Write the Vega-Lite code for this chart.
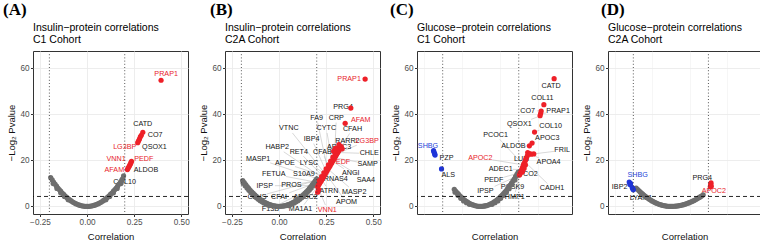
{
"$schema":"https://vega.github.io/schema/vega-lite/v6.json",
"background":"white",
"padding":{"left":2,"top":0,"right":0,"bottom":0},
"spacing":7,
"config":{
 "view":{"stroke":"#333333","strokeWidth":1},
 "font":"Liberation Sans",
 "axis":{"labelFont":"Liberation Sans","titleFont":"Liberation Sans","labelFontSize":8.2,"labelColor":"#4d4d4d","titleFontSize":9.5,"titleFontWeight":"normal","titleColor":"#111111","tickColor":"#333333","tickSize":2.5,"domain":false,"labelPadding":1.5,"gridColor":"#ebebeb"},
 "axisY":{"minExtent":14,"maxExtent":14,"titlePadding":3},
 "axisX":{"titlePadding":6},
 "title":{"anchor":"start","frame":"group","font":"Liberation Serif","fontSize":17,"fontWeight":"bold","color":"#000000","offset":4,"subtitleFont":"Liberation Sans","subtitleFontSize":10.5,"subtitleColor":"#000000","subtitleLineHeight":12,"subtitlePadding":4}
},
"datasets":{
"ptsA":[
{"x":-0.193,"y":12.5,"g":"n"},{"x":-0.185,"y":11.5,"g":"n"},{"x":-0.178,"y":10.6,"g":"n"},{"x":-0.17,"y":9.7,"g":"n"},{"x":-0.162,"y":8.8,"g":"n"},{"x":-0.155,"y":8.0,"g":"n"},{"x":-0.148,"y":7.3,"g":"n"},{"x":-0.14,"y":6.6,"g":"n"},{"x":-0.132,"y":5.8,"g":"n"},{"x":-0.124,"y":5.2,"g":"n"},{"x":-0.116,"y":4.5,"g":"n"},{"x":-0.108,"y":3.9,"g":"n"},{"x":-0.1,"y":3.35,"g":"n"},{"x":-0.092,"y":2.8,"g":"n"},{"x":-0.084,"y":2.4,"g":"n"},{"x":-0.076,"y":1.9,"g":"n"},{"x":-0.068,"y":1.55,"g":"n"},{"x":-0.06,"y":1.2,"g":"n"},{"x":-0.052,"y":0.9,"g":"n"},{"x":-0.044,"y":0.65,"g":"n"},{"x":-0.036,"y":0.43,"g":"n"},{"x":-0.028,"y":0.26,"g":"n"},{"x":-0.02,"y":0.13,"g":"n"},{"x":-0.012,"y":0.05,"g":"n"},{"x":-0.004,"y":0.01,"g":"n"},{"x":0.004,"y":0.01,"g":"n"},{"x":0.012,"y":0.05,"g":"n"},{"x":0.02,"y":0.13,"g":"n"},{"x":0.028,"y":0.26,"g":"n"},{"x":0.036,"y":0.43,"g":"n"},{"x":0.044,"y":0.65,"g":"n"},{"x":0.052,"y":0.9,"g":"n"},{"x":0.06,"y":1.2,"g":"n"},{"x":0.068,"y":1.55,"g":"n"},{"x":0.076,"y":1.9,"g":"n"},{"x":0.084,"y":2.4,"g":"n"},{"x":0.092,"y":2.8,"g":"n"},{"x":0.1,"y":3.35,"g":"n"},{"x":0.108,"y":3.9,"g":"n"},{"x":0.116,"y":4.5,"g":"n"},{"x":0.124,"y":5.2,"g":"n"},{"x":0.132,"y":5.8,"g":"n"},{"x":0.14,"y":6.6,"g":"n"},{"x":0.148,"y":7.3,"g":"n"},{"x":0.155,"y":8.0,"g":"n"},{"x":0.162,"y":8.8,"g":"n"},{"x":0.17,"y":9.7,"g":"n"},{"x":0.178,"y":10.6,"g":"n"},{"x":0.185,"y":11.5,"g":"n"},{"x":0.19,"y":12.1,"g":"n"},{"x":0.194,"y":13.3,"g":"n"},
{"x":-0.18,"y":9.9,"g":"n"},{"x":-0.16,"y":7.8,"g":"n"},{"x":-0.14,"y":5.9,"g":"n"},{"x":-0.12,"y":4.3,"g":"n"},{"x":-0.1,"y":2.9,"g":"n"},{"x":0.1,"y":2.9,"g":"n"},{"x":0.12,"y":4.3,"g":"n"},{"x":0.14,"y":5.9,"g":"n"},{"x":0.16,"y":7.8,"g":"n"},{"x":0.18,"y":9.9,"g":"n"},
{"x":0.393,"y":54.8,"g":"r"},{"x":0.296,"y":32.2,"g":"r"},{"x":0.288,"y":30.9,"g":"r"},{"x":0.283,"y":30.2,"g":"r"},{"x":0.278,"y":29.2,"g":"r"},{"x":0.273,"y":28.4,"g":"r"},{"x":0.269,"y":27.7,"g":"r"},{"x":0.236,"y":19.6,"g":"r"},{"x":0.233,"y":19.0,"g":"r"},{"x":0.23,"y":18.4,"g":"r"},{"x":0.226,"y":17.8,"g":"r"},{"x":0.222,"y":17.2,"g":"r"},{"x":0.218,"y":16.6,"g":"r"},{"x":0.214,"y":16.0,"g":"r"}
],
"labA":[
{"n":"PRAP1","lx":0.42,"ly":57.3,"c":"r"},{"n":"CATD","lx":0.296,"ly":35.8,"c":"k"},{"n":"CO7","lx":0.362,"ly":30.9,"c":"k"},{"n":"QSOX1","lx":0.358,"ly":25.7,"c":"k"},{"n":"LG3BP","lx":0.2,"ly":25.7,"c":"r"},{"n":"VNN1","lx":0.154,"ly":20.6,"c":"r"},{"n":"PEDF","lx":0.301,"ly":20.6,"c":"r"},{"n":"AFAM","lx":0.145,"ly":16,"c":"r"},{"n":"ALDOB","lx":0.313,"ly":16,"c":"k"},{"n":"COL10","lx":0.2,"ly":10.7,"c":"k"}
],
"ptsB":[
{"x":-0.193,"y":11.2,"g":"n"},{"x":-0.185,"y":10.3,"g":"n"},{"x":-0.177,"y":9.4,"g":"n"},{"x":-0.169,"y":8.6,"g":"n"},{"x":-0.161,"y":7.8,"g":"n"},{"x":-0.153,"y":7.0,"g":"n"},{"x":-0.145,"y":6.3,"g":"n"},{"x":-0.137,"y":5.6,"g":"n"},{"x":-0.129,"y":5.0,"g":"n"},{"x":-0.121,"y":4.4,"g":"n"},{"x":-0.113,"y":3.8,"g":"n"},{"x":-0.105,"y":3.3,"g":"n"},{"x":-0.097,"y":2.8,"g":"n"},{"x":-0.089,"y":2.4,"g":"n"},{"x":-0.081,"y":2.0,"g":"n"},{"x":-0.073,"y":1.6,"g":"n"},{"x":-0.065,"y":1.27,"g":"n"},{"x":-0.057,"y":0.97,"g":"n"},{"x":-0.049,"y":0.72,"g":"n"},{"x":-0.041,"y":0.5,"g":"n"},{"x":-0.033,"y":0.33,"g":"n"},{"x":-0.025,"y":0.19,"g":"n"},{"x":-0.017,"y":0.09,"g":"n"},{"x":-0.009,"y":0.02,"g":"n"},{"x":0,"y":0,"g":"n"},{"x":0.009,"y":0.02,"g":"n"},{"x":0.017,"y":0.09,"g":"n"},{"x":0.025,"y":0.19,"g":"n"},{"x":0.033,"y":0.33,"g":"n"},{"x":0.041,"y":0.5,"g":"n"},{"x":0.049,"y":0.72,"g":"n"},{"x":0.057,"y":0.97,"g":"n"},{"x":0.065,"y":1.27,"g":"n"},{"x":0.073,"y":1.6,"g":"n"},{"x":0.081,"y":2.0,"g":"n"},{"x":0.089,"y":2.4,"g":"n"},{"x":0.097,"y":2.8,"g":"n"},{"x":0.105,"y":3.3,"g":"n"},{"x":0.113,"y":3.8,"g":"n"},{"x":0.121,"y":4.4,"g":"n"},{"x":0.129,"y":5.0,"g":"n"},{"x":0.137,"y":5.6,"g":"n"},{"x":0.145,"y":6.3,"g":"n"},{"x":0.153,"y":7.0,"g":"n"},{"x":0.161,"y":7.8,"g":"n"},{"x":0.169,"y":8.6,"g":"n"},{"x":0.177,"y":9.4,"g":"n"},{"x":0.185,"y":10.3,"g":"n"},{"x":0.193,"y":11.2,"g":"n"},{"x":0.2,"y":12.0,"g":"n"},
{"x":-0.19,"y":10.1,"g":"n"},{"x":-0.18,"y":9.0,"g":"n"},{"x":-0.17,"y":8.0,"g":"n"},{"x":-0.16,"y":7.0,"g":"n"},{"x":-0.15,"y":6.1,"g":"n"},{"x":-0.14,"y":5.3,"g":"n"},{"x":-0.13,"y":4.5,"g":"n"},{"x":-0.12,"y":3.8,"g":"n"},{"x":-0.11,"y":3.1,"g":"n"},{"x":-0.1,"y":2.5,"g":"n"},{"x":-0.09,"y":2.0,"g":"n"},{"x":-0.08,"y":1.5,"g":"n"},{"x":-0.07,"y":1.1,"g":"n"},{"x":-0.06,"y":0.7,"g":"n"},{"x":-0.05,"y":0.4,"g":"n"},{"x":0.05,"y":0.4,"g":"n"},{"x":0.06,"y":0.7,"g":"n"},{"x":0.07,"y":1.1,"g":"n"},{"x":0.08,"y":1.5,"g":"n"},{"x":0.09,"y":2.0,"g":"n"},{"x":0.1,"y":2.5,"g":"n"},{"x":0.11,"y":3.1,"g":"n"},{"x":0.12,"y":3.8,"g":"n"},{"x":0.13,"y":4.5,"g":"n"},{"x":0.14,"y":5.3,"g":"n"},{"x":0.15,"y":6.1,"g":"n"},{"x":0.16,"y":7.0,"g":"n"},{"x":0.17,"y":8.0,"g":"n"},{"x":0.18,"y":9.0,"g":"n"},{"x":0.19,"y":10.1,"g":"n"},
{"x":0.457,"y":55.3,"g":"r"},{"x":0.381,"y":42.7,"g":"r"},{"x":0.351,"y":36.1,"g":"r"},
{"x":0.205,"y":8.5,"g":"r"},{"x":0.21,"y":9.3,"g":"r"},{"x":0.215,"y":9.9,"g":"r"},{"x":0.22,"y":10.6,"g":"r"},{"x":0.225,"y":11.3,"g":"r"},{"x":0.23,"y":12.0,"g":"r"},{"x":0.235,"y":12.7,"g":"r"},{"x":0.24,"y":13.4,"g":"r"},{"x":0.245,"y":14.1,"g":"r"},{"x":0.25,"y":14.8,"g":"r"},{"x":0.255,"y":15.5,"g":"r"},{"x":0.26,"y":16.2,"g":"r"},{"x":0.265,"y":16.9,"g":"r"},{"x":0.27,"y":17.6,"g":"r"},{"x":0.275,"y":18.3,"g":"r"},{"x":0.28,"y":19.0,"g":"r"},{"x":0.285,"y":19.7,"g":"r"},{"x":0.29,"y":20.4,"g":"r"},{"x":0.295,"y":21.1,"g":"r"},{"x":0.3,"y":21.8,"g":"r"},{"x":0.305,"y":22.5,"g":"r"},{"x":0.31,"y":23.2,"g":"r"},{"x":0.315,"y":23.9,"g":"r"},{"x":0.32,"y":24.6,"g":"r"},{"x":0.325,"y":25.3,"g":"r"},{"x":0.33,"y":26.0,"g":"r"},
{"x":0.214,"y":11.2,"g":"r"},{"x":0.226,"y":12.9,"g":"r"},{"x":0.238,"y":14.6,"g":"r"},{"x":0.25,"y":16.3,"g":"r"},{"x":0.262,"y":18.0,"g":"r"},{"x":0.274,"y":19.7,"g":"r"},{"x":0.286,"y":21.4,"g":"r"},{"x":0.298,"y":23.1,"g":"r"},{"x":0.31,"y":24.8,"g":"r"},{"x":0.29,"y":24.0,"g":"r"},{"x":0.3,"y":25.2,"g":"r"},{"x":0.335,"y":25.0,"g":"r"},{"x":0.318,"y":26.8,"g":"r"},{"x":0.205,"y":6.2,"g":"r"},{"x":0.21,"y":7.3,"g":"r"}
],
"labB":[
{"n":"PRAP1","lx":0.372,"ly":55.3,"c":"r"},{"n":"PRG4","lx":0.34,"ly":43,"c":"k"},{"n":"AFAM","lx":0.434,"ly":37.5,"c":"r"},
{"n":"FA9","lx":0.2,"ly":38.4,"c":"k","x":0.258,"y":15.9,"sx":0.205,"sy":36.4},
{"n":"CRP","lx":0.304,"ly":38.4,"c":"k","x":0.294,"y":21.0,"sx":0.303,"sy":36.4},
{"n":"VTNC","lx":0.052,"ly":33.9,"c":"k","x":0.245,"y":14.1,"sx":0.071,"sy":31.9},
{"n":"CYTC","lx":0.251,"ly":33.9,"c":"k","x":0.282,"y":19.3,"sx":0.255,"sy":31.9},
{"n":"CFAH","lx":0.39,"ly":33.6,"c":"k","x":0.316,"y":24.1,"sx":0.375,"sy":31.7},
{"n":"IBP4","lx":0.173,"ly":29.3,"c":"k","x":0.251,"y":15.0,"sx":0.184,"sy":27.3},
{"n":"APOC3","lx":0.319,"ly":25.7,"c":"k"},
{"n":"RARR2","lx":0.363,"ly":28.3,"c":"k","x":0.323,"y":25.0,"sx":0.338,"sy":26.3},
{"n":"LG3BP","lx":0.468,"ly":28.5,"c":"r","x":0.307,"y":22.8,"sx":0.413,"sy":26.6},
{"n":"HABP2","lx":-0.01,"ly":25.7,"c":"k","x":0.232,"y":12.3,"sx":0.025,"sy":23.7},
{"n":"RET4","lx":0.105,"ly":23.8,"c":"k","x":0.236,"y":12.8,"sx":0.129,"sy":21.8},
{"n":"CFAB","lx":0.23,"ly":23.8,"c":"k","x":0.264,"y":16.8,"sx":0.24,"sy":21.8},
{"n":"CHLE","lx":0.479,"ly":23,"c":"k","x":0.311,"y":23.4,"sx":0.425,"sy":23.1},
{"n":"MASP1","lx":-0.111,"ly":20.6,"c":"k","x":0.226,"y":11.4,"sx":-0.047,"sy":18.9},
{"n":"APOE","lx":0.031,"ly":18.8,"c":"k","x":0.239,"y":13.2,"sx":0.085,"sy":17.3},
{"n":"LYSC","lx":0.159,"ly":18.8,"c":"k","x":0.245,"y":14.1,"sx":0.195,"sy":16.8},
{"n":"PEDF","lx":0.327,"ly":19.4,"c":"r"},
{"n":"SAMP","lx":0.47,"ly":18.4,"c":"k","x":0.296,"y":21.2,"sx":0.416,"sy":19.3},
{"n":"FETUA","lx":-0.028,"ly":14,"c":"k","x":0.217,"y":10.2,"sx":0.036,"sy":13.0},
{"n":"S10A9","lx":0.132,"ly":14,"c":"k","x":0.223,"y":11.0,"sx":0.191,"sy":12.0},
{"n":"ANGI","lx":0.381,"ly":14.5,"c":"k","x":0.284,"y":19.6,"sx":0.344,"sy":16.4},
{"n":"RNAS4","lx":0.301,"ly":11.9,"c":"k","x":0.249,"y":14.6,"sx":0.264,"sy":13.8},
{"n":"SAA4","lx":0.461,"ly":11.5,"c":"k","x":0.289,"y":20.2,"sx":0.422,"sy":13.5},
{"n":"IPSP","lx":-0.076,"ly":9,"c":"k","x":0.209,"y":9.0,"sx":-0.022,"sy":9.0},
{"n":"PROS","lx":0.066,"ly":9.3,"c":"k","x":0.226,"y":11.5,"sx":0.119,"sy":10.0},
{"n":"ATRN","lx":0.265,"ly":6.8,"c":"k","x":0.227,"y":11.6,"sx":0.249,"sy":8.8},
{"n":"MASP2","lx":0.399,"ly":6.4,"c":"k","x":0.26,"y":16.2,"sx":0.371,"sy":8.4},
{"n":"CLUS","lx":-0.117,"ly":4.2,"c":"k","x":0.229,"y":11.9,"sx":-0.065,"sy":5.4},
{"n":"CFAI","lx":0.0,"ly":4.3,"c":"k","x":0.223,"y":11.0,"sx":0.054,"sy":5.9},
{"n":"APOC2","lx":0.141,"ly":4.3,"c":"k","x":0.216,"y":10.0,"sx":0.167,"sy":6.2},
{"n":"APOM","lx":0.358,"ly":1.7,"c":"k","x":0.247,"y":14.4,"sx":0.341,"sy":3.7},
{"n":"F13B","lx":-0.046,"ly":-1.0,"c":"k","x":0.212,"y":9.5,"sx":0.003,"sy":1.0},
{"n":"MA1A1","lx":0.114,"ly":-1.2,"c":"k","x":0.209,"y":9.0,"sx":0.132,"sy":0.7},
{"n":"VNN1","lx":0.256,"ly":-1.4,"c":"r","x":0.205,"y":8.5,"sx":0.246,"sy":0.6}
],
"ptsC":[
{"x":-0.139,"y":7.4,"g":"n"},{"x":-0.132,"y":6.7,"g":"n"},{"x":-0.125,"y":6.0,"g":"n"},{"x":-0.118,"y":5.4,"g":"n"},{"x":-0.111,"y":4.7,"g":"n"},{"x":-0.104,"y":4.2,"g":"n"},{"x":-0.097,"y":3.6,"g":"n"},{"x":-0.09,"y":3.1,"g":"n"},{"x":-0.083,"y":2.65,"g":"n"},{"x":-0.076,"y":2.2,"g":"n"},{"x":-0.069,"y":1.83,"g":"n"},{"x":-0.062,"y":1.48,"g":"n"},{"x":-0.055,"y":1.16,"g":"n"},{"x":-0.048,"y":0.89,"g":"n"},{"x":-0.041,"y":0.65,"g":"n"},{"x":-0.034,"y":0.45,"g":"n"},{"x":-0.027,"y":0.28,"g":"n"},{"x":-0.02,"y":0.15,"g":"n"},{"x":-0.013,"y":0.07,"g":"n"},{"x":-0.006,"y":0.01,"g":"n"},{"x":0.001,"y":0,"g":"n"},{"x":0.008,"y":0.02,"g":"n"},{"x":0.015,"y":0.09,"g":"n"},{"x":0.022,"y":0.19,"g":"n"},{"x":0.029,"y":0.32,"g":"n"},{"x":0.036,"y":0.5,"g":"n"},{"x":0.043,"y":0.71,"g":"n"},{"x":0.05,"y":0.96,"g":"n"},{"x":0.057,"y":1.25,"g":"n"},{"x":0.064,"y":1.58,"g":"n"},{"x":0.071,"y":1.94,"g":"n"},{"x":0.078,"y":2.34,"g":"n"},{"x":0.085,"y":2.78,"g":"n"},{"x":0.092,"y":3.26,"g":"n"},{"x":0.099,"y":3.77,"g":"n"},{"x":0.106,"y":4.33,"g":"n"},{"x":0.113,"y":4.92,"g":"n"},{"x":0.12,"y":5.54,"g":"n"},{"x":0.127,"y":6.21,"g":"n"},{"x":0.134,"y":6.91,"g":"n"},{"x":0.141,"y":7.65,"g":"n"},{"x":0.148,"y":8.43,"g":"n"},{"x":0.155,"y":9.25,"g":"n"},{"x":0.162,"y":10.1,"g":"n"},{"x":0.169,"y":11.0,"g":"n"},{"x":0.176,"y":11.9,"g":"n"},{"x":0.183,"y":12.9,"g":"n"},{"x":0.19,"y":13.9,"g":"n"},{"x":0.197,"y":14.9,"g":"n"},
{"x":-0.135,"y":6.2,"g":"n"},{"x":-0.12,"y":4.8,"g":"n"},{"x":-0.105,"y":3.5,"g":"n"},{"x":-0.09,"y":2.4,"g":"n"},{"x":-0.075,"y":1.6,"g":"n"},{"x":-0.06,"y":0.9,"g":"n"},{"x":0.06,"y":0.9,"g":"n"},{"x":0.075,"y":1.6,"g":"n"},{"x":0.09,"y":2.4,"g":"n"},{"x":0.105,"y":3.5,"g":"n"},{"x":0.12,"y":4.8,"g":"n"},{"x":0.135,"y":6.2,"g":"n"},{"x":0.15,"y":7.7,"g":"n"},{"x":0.165,"y":9.5,"g":"n"},{"x":0.18,"y":11.5,"g":"n"},{"x":0.195,"y":13.6,"g":"n"},
{"x":-0.248,"y":24.2,"g":"b"},{"x":-0.245,"y":23.5,"g":"b"},{"x":-0.242,"y":22.8,"g":"b"},{"x":-0.24,"y":22.3,"g":"b"},{"x":-0.206,"y":16.3,"g":"b"},
{"x":0.386,"y":55.5,"g":"r"},{"x":0.332,"y":44.2,"g":"r"},{"x":0.318,"y":41.4,"g":"r"},{"x":0.315,"y":40.3,"g":"r"},{"x":0.312,"y":39.4,"g":"r"},{"x":0.283,"y":32.3,"g":"r"},{"x":0.27,"y":27.5,"g":"r"},{"x":0.256,"y":26.3,"g":"r"},{"x":0.247,"y":23.4,"g":"r"},{"x":0.256,"y":22.9,"g":"r"},{"x":0.265,"y":22.7,"g":"r"},{"x":0.279,"y":22.8,"g":"r"},{"x":0.245,"y":22.0,"g":"r"},{"x":0.24,"y":21.0,"g":"r"},{"x":0.236,"y":20.2,"g":"r"},{"x":0.232,"y":19.4,"g":"r"},{"x":0.228,"y":18.6,"g":"r"},{"x":0.225,"y":18.0,"g":"r"},{"x":0.222,"y":17.3,"g":"r"},{"x":0.219,"y":16.6,"g":"r"},{"x":0.216,"y":16.0,"g":"r"},{"x":0.213,"y":15.3,"g":"r"},{"x":0.21,"y":14.7,"g":"r"},{"x":0.207,"y":14.2,"g":"r"},{"x":0.204,"y":13.6,"g":"r"},{"x":0.235,"y":18.0,"g":"r"},{"x":0.228,"y":16.5,"g":"r"},{"x":0.22,"y":15.0,"g":"r"}
],
"labC":[
{"n":"CATD","lx":0.37,"ly":52.3,"c":"k"},{"n":"COL11","lx":0.324,"ly":47.2,"c":"k"},
{"n":"CO7","lx":0.247,"ly":41.6,"c":"k","x":0.318,"y":41.4,"sx":0.295,"sy":41.5},
{"n":"PRAP1","lx":0.407,"ly":41.4,"c":"k","x":0.315,"y":40.3,"sx":0.344,"sy":40.6},
{"n":"QSOX1","lx":0.203,"ly":35.8,"c":"k","x":0.31,"y":39.2,"sx":0.265,"sy":37.8},
{"n":"COL10","lx":0.368,"ly":35.1,"c":"k","x":0.283,"y":32.3,"sx":0.309,"sy":33.1},
{"n":"PCOC1","lx":0.078,"ly":31.1,"c":"k","x":0.225,"y":18.0,"sx":0.1,"sy":29.1},
{"n":"APOC3","lx":0.35,"ly":29.7,"c":"k","x":0.27,"y":27.5,"sx":0.287,"sy":28.0},
{"n":"ALDOB","lx":0.172,"ly":26.3,"c":"k","x":0.256,"y":26.3,"sx":0.235,"sy":26.3},
{"n":"FRIL","lx":0.428,"ly":24.3,"c":"k","x":0.279,"y":22.8,"sx":0.386,"sy":23.9},
{"n":"LUM","lx":0.215,"ly":20.5,"c":"k","x":0.247,"y":23.4,"sx":0.236,"sy":22.4},
{"n":"APOA4","lx":0.357,"ly":19.1,"c":"k","x":0.265,"y":22.7,"sx":0.307,"sy":21.0},
{"n":"APOC2","lx":-0.002,"ly":21,"c":"r","x":0.225,"y":18.0,"sx":0.062,"sy":20.2},
{"n":"ADEC1","lx":0.105,"ly":16.2,"c":"k","x":0.216,"y":16.0,"sx":0.168,"sy":16.1},
{"n":"CO2","lx":0.261,"ly":14,"c":"k"},
{"n":"PEDF","lx":0.069,"ly":11.5,"c":"k","x":0.21,"y":14.7,"sx":0.123,"sy":12.7},
{"n":"PCSK9","lx":0.167,"ly":8.6,"c":"k","x":0.213,"y":15.3,"sx":0.18,"sy":10.6},
{"n":"CADH1","lx":0.375,"ly":7.9,"c":"k","x":0.232,"y":19.4,"sx":0.351,"sy":9.9},
{"n":"IPSP","lx":0.025,"ly":6.9,"c":"k","x":0.204,"y":13.6,"sx":0.073,"sy":8.7},
{"n":"TIMP1","lx":0.176,"ly":4.2,"c":"k","x":0.204,"y":13.6,"sx":0.182,"sy":6.2},
{"n":"SHBG","lx":-0.277,"ly":26.1,"c":"b"},{"n":"PZP","lx":-0.18,"ly":21,"c":"k"},{"n":"ALS","lx":-0.171,"ly":13.7,"c":"k"}
],
"ptsD":[
{"x":-0.185,"y":8.0,"g":"n"},{"x":-0.178,"y":7.4,"g":"n"},{"x":-0.171,"y":6.9,"g":"n"},{"x":-0.164,"y":6.3,"g":"n"},{"x":-0.157,"y":5.8,"g":"n"},{"x":-0.15,"y":5.3,"g":"n"},{"x":-0.143,"y":4.8,"g":"n"},{"x":-0.136,"y":4.35,"g":"n"},{"x":-0.129,"y":3.9,"g":"n"},{"x":-0.122,"y":3.5,"g":"n"},{"x":-0.115,"y":3.1,"g":"n"},{"x":-0.108,"y":2.74,"g":"n"},{"x":-0.101,"y":2.4,"g":"n"},{"x":-0.094,"y":2.08,"g":"n"},{"x":-0.087,"y":1.78,"g":"n"},{"x":-0.08,"y":1.5,"g":"n"},{"x":-0.073,"y":1.25,"g":"n"},{"x":-0.066,"y":1.02,"g":"n"},{"x":-0.059,"y":0.82,"g":"n"},{"x":-0.052,"y":0.64,"g":"n"},{"x":-0.045,"y":0.48,"g":"n"},{"x":-0.038,"y":0.34,"g":"n"},{"x":-0.031,"y":0.23,"g":"n"},{"x":-0.024,"y":0.14,"g":"n"},{"x":-0.017,"y":0.07,"g":"n"},{"x":-0.01,"y":0.02,"g":"n"},{"x":-0.003,"y":0,"g":"n"},{"x":0.004,"y":0,"g":"n"},{"x":0.011,"y":0.02,"g":"n"},{"x":0.018,"y":0.06,"g":"n"},{"x":0.025,"y":0.11,"g":"n"},{"x":0.032,"y":0.17,"g":"n"},{"x":0.039,"y":0.26,"g":"n"},{"x":0.046,"y":0.36,"g":"n"},{"x":0.053,"y":0.48,"g":"n"},{"x":0.06,"y":0.61,"g":"n"},{"x":0.067,"y":0.76,"g":"n"},{"x":0.074,"y":0.93,"g":"n"},{"x":0.081,"y":1.12,"g":"n"},{"x":0.088,"y":1.32,"g":"n"},{"x":0.095,"y":1.53,"g":"n"},{"x":0.102,"y":1.77,"g":"n"},{"x":0.109,"y":2.02,"g":"n"},{"x":0.116,"y":2.29,"g":"n"},{"x":0.123,"y":2.57,"g":"n"},{"x":0.13,"y":2.87,"g":"n"},{"x":0.137,"y":3.19,"g":"n"},{"x":0.144,"y":3.53,"g":"n"},{"x":0.151,"y":3.88,"g":"n"},{"x":0.158,"y":4.24,"g":"n"},{"x":0.165,"y":4.63,"g":"n"},{"x":0.172,"y":5.03,"g":"n"},
{"x":-0.215,"y":10.0,"g":"b"},{"x":-0.222,"y":10.6,"g":"b"},{"x":-0.218,"y":9.5,"g":"b"},{"x":-0.203,"y":7.7,"g":"b"},{"x":-0.206,"y":8.2,"g":"b"},{"x":-0.2,"y":7.2,"g":"b"},
{"x":0.212,"y":9.7,"g":"r"},{"x":0.214,"y":10.2,"g":"r"},{"x":0.212,"y":9.0,"g":"r"},{"x":0.21,"y":8.5,"g":"r"},{"x":0.215,"y":8.7,"g":"r"}
],
"labD":[
{"n":"SHBG","lx":-0.177,"ly":13.5,"c":"b"},{"n":"IBP2","lx":-0.273,"ly":8.4,"c":"k"},{"n":"LYAM1","lx":-0.159,"ly":3.6,"c":"k"},{"n":"PRG4","lx":0.167,"ly":12.3,"c":"k"},{"n":"APOC2","lx":0.229,"ly":6.5,"c":"r"}
]
},
"hconcat":[
{
 "width":155,"height":163,
 "title":{"text":"(A)","subtitle":["Insulin−protein correlations","C1 Cohort"],"encoding":{"dx":{"value":-30}}},
 "layer":[
  {"data":{"name":"labA"},"mark":{"type":"text","fontSize":7.2,"font":"Liberation Sans","clip":true},"encoding":{
    "x":{"field":"lx","type":"quantitative","scale":{"domain":[-0.287,0.536],"nice":false,"zero":false},"axis":{"title":"Correlation","values":[-0.25,-0.125,0,0.125,0.25,0.375,0.5],"labelExpr":"abs(datum.value*4-round(datum.value*4))<0.001 ? format(datum.value,'.2f') : ''","tickOpacity":{"condition":{"test":"abs(datum.value*4-round(datum.value*4))<0.001","value":1},"value":0},"gridWidth":{"condition":{"test":"abs(datum.value*4-round(datum.value*4))<0.001","value":0.9},"value":0.45}}},
    "y":{"field":"ly","type":"quantitative","scale":{"domain":[-3.3,67.5],"nice":false,"zero":false},"axis":{"title":"−Log₂ Pvalue","values":[0,10,20,30,40,50,60],"labelExpr":"datum.value % 20 === 0 ? datum.label : ''","tickOpacity":{"condition":{"test":"datum.value % 20 === 0","value":1},"value":0},"gridWidth":{"condition":{"test":"datum.value % 20 === 0","value":0.9},"value":0.45}}},
    "text":{"field":"n"},
    "fill":{"field":"c","type":"nominal","scale":{"domain":["k","r","b"],"range":["#141414","#e8232b","#2445d8"]},"legend":null}}},
  {"data":{"name":"ptsA"},"mark":{"type":"circle","size":27,"opacity":1,"clip":true},"encoding":{
    "x":{"field":"x","type":"quantitative","scale":{"domain":[-0.287,0.536],"nice":false,"zero":false},"title":"Correlation"},
    "y":{"field":"y","type":"quantitative","scale":{"domain":[-3.3,67.5],"nice":false,"zero":false},"title":"−Log₂ Pvalue"},
    "color":{"field":"g","type":"nominal","scale":{"domain":["n","r","b"],"range":["#6e6e6e","#ee2028","#1f35d8"]},"legend":null}}},
  {"data":{"values":[{"v":-0.2},{"v":0.2}]},"mark":{"type":"rule","color":"#444444","strokeWidth":0.9,"strokeDash":[1,2.2]},"encoding":{"x":{"field":"v","type":"quantitative","scale":{"domain":[-0.287,0.536],"nice":false,"zero":false},"title":"Correlation"}}},
  {"data":{"values":[{"h":4.32}]},"mark":{"type":"rule","color":"#111111","strokeWidth":0.9,"strokeDash":[4,3]},"encoding":{"y":{"field":"h","type":"quantitative","scale":{"domain":[-3.3,67.5],"nice":false,"zero":false},"title":"−Log₂ Pvalue"}}}
 ]},
{
 "width":155,"height":163,
 "title":{"text":"(B)","subtitle":["Insulin−protein correlations","C2A Cohort"],"encoding":{"dx":{"value":-15}}},
 "layer":[
  {"data":{"name":"labB"},"transform":[{"filter":"isValid(datum.sx)"}],"mark":{"type":"rule","color":"#bdbdbd","strokeWidth":0.6,"clip":true},"encoding":{
    "x":{"field":"x","type":"quantitative","scale":{"domain":[-0.287,0.536],"nice":false,"zero":false},"axis":{"title":"Correlation","values":[-0.25,-0.125,0,0.125,0.25,0.375,0.5],"labelExpr":"abs(datum.value*4-round(datum.value*4))<0.001 ? format(datum.value,'.2f') : ''","tickOpacity":{"condition":{"test":"abs(datum.value*4-round(datum.value*4))<0.001","value":1},"value":0},"gridWidth":{"condition":{"test":"abs(datum.value*4-round(datum.value*4))<0.001","value":0.9},"value":0.45}}},
    "y":{"field":"y","type":"quantitative","scale":{"domain":[-3.3,67.5],"nice":false,"zero":false},"axis":{"title":"−Log₂ Pvalue","values":[0,10,20,30,40,50,60],"labelExpr":"datum.value % 20 === 0 ? datum.label : ''","tickOpacity":{"condition":{"test":"datum.value % 20 === 0","value":1},"value":0},"gridWidth":{"condition":{"test":"datum.value % 20 === 0","value":0.9},"value":0.45}}},
    "x2":{"field":"sx"},"y2":{"field":"sy"}}},
  {"data":{"name":"labB"},"mark":{"type":"text","fontSize":7.2,"font":"Liberation Sans","clip":true},"encoding":{
    "x":{"field":"lx","type":"quantitative","scale":{"domain":[-0.287,0.536],"nice":false,"zero":false},"title":"Correlation"},
    "y":{"field":"ly","type":"quantitative","scale":{"domain":[-3.3,67.5],"nice":false,"zero":false},"title":"−Log₂ Pvalue"},
    "text":{"field":"n"},
    "fill":{"field":"c","type":"nominal","scale":{"domain":["k","r","b"],"range":["#141414","#e8232b","#2445d8"]},"legend":null}}},
  {"data":{"name":"ptsB"},"mark":{"type":"circle","size":28,"opacity":1,"clip":true},"encoding":{
    "x":{"field":"x","type":"quantitative","scale":{"domain":[-0.287,0.536],"nice":false,"zero":false},"title":"Correlation"},
    "y":{"field":"y","type":"quantitative","scale":{"domain":[-3.3,67.5],"nice":false,"zero":false},"title":"−Log₂ Pvalue"},
    "color":{"field":"g","type":"nominal","scale":{"domain":["n","r","b"],"range":["#6e6e6e","#ee2028","#1f35d8"]},"legend":null}}},
  {"data":{"values":[{"v":-0.2},{"v":0.2}]},"mark":{"type":"rule","color":"#444444","strokeWidth":0.9,"strokeDash":[1,2.2]},"encoding":{"x":{"field":"v","type":"quantitative","scale":{"domain":[-0.287,0.536],"nice":false,"zero":false},"title":"Correlation"}}},
  {"data":{"values":[{"h":4.32}]},"mark":{"type":"rule","color":"#111111","strokeWidth":0.9,"strokeDash":[4,3]},"encoding":{"y":{"field":"h","type":"quantitative","scale":{"domain":[-3.3,67.5],"nice":false,"zero":false},"title":"−Log₂ Pvalue"}}}
 ]},
{
 "width":155,"height":163,
 "title":{"text":"(C)","subtitle":["Glucose−protein correlations","C1 Cohort"],"encoding":{"dx":{"value":-27}}},
 "layer":[
  {"data":{"name":"labC"},"transform":[{"filter":"isValid(datum.sx)"}],"mark":{"type":"rule","color":"#bdbdbd","strokeWidth":0.6,"clip":true},"encoding":{
    "x":{"field":"x","type":"quantitative","scale":{"domain":[-0.335,0.48],"nice":false,"zero":false},"axis":{"title":"Correlation","values":[-0.3,-0.2,-0.1,0,0.1,0.2,0.3,0.4],"labelExpr":"abs(datum.value*5-round(datum.value*5))<0.001 ? format(datum.value,'.1f') : ''","tickOpacity":{"condition":{"test":"abs(datum.value*5-round(datum.value*5))<0.001","value":1},"value":0},"gridWidth":{"condition":{"test":"abs(datum.value*5-round(datum.value*5))<0.001","value":0.9},"value":0.45}}},
    "y":{"field":"y","type":"quantitative","scale":{"domain":[-3.3,67.5],"nice":false,"zero":false},"axis":{"title":"−Log₂ Pvalue","values":[0,10,20,30,40,50,60],"labelExpr":"datum.value % 20 === 0 ? datum.label : ''","tickOpacity":{"condition":{"test":"datum.value % 20 === 0","value":1},"value":0},"gridWidth":{"condition":{"test":"datum.value % 20 === 0","value":0.9},"value":0.45}}},
    "x2":{"field":"sx"},"y2":{"field":"sy"}}},
  {"data":{"name":"labC"},"mark":{"type":"text","fontSize":7.2,"font":"Liberation Sans","clip":true},"encoding":{
    "x":{"field":"lx","type":"quantitative","scale":{"domain":[-0.335,0.48],"nice":false,"zero":false},"title":"Correlation"},
    "y":{"field":"ly","type":"quantitative","scale":{"domain":[-3.3,67.5],"nice":false,"zero":false},"title":"−Log₂ Pvalue"},
    "text":{"field":"n"},
    "fill":{"field":"c","type":"nominal","scale":{"domain":["k","r","b"],"range":["#141414","#e8232b","#2445d8"]},"legend":null}}},
  {"data":{"name":"ptsC"},"mark":{"type":"circle","size":27,"opacity":1,"clip":true},"encoding":{
    "x":{"field":"x","type":"quantitative","scale":{"domain":[-0.335,0.48],"nice":false,"zero":false},"title":"Correlation"},
    "y":{"field":"y","type":"quantitative","scale":{"domain":[-3.3,67.5],"nice":false,"zero":false},"title":"−Log₂ Pvalue"},
    "color":{"field":"g","type":"nominal","scale":{"domain":["n","r","b"],"range":["#6e6e6e","#ee2028","#1f35d8"]},"legend":null}}},
  {"data":{"values":[{"v":-0.2},{"v":0.2}]},"mark":{"type":"rule","color":"#444444","strokeWidth":0.9,"strokeDash":[1,2.2]},"encoding":{"x":{"field":"v","type":"quantitative","scale":{"domain":[-0.335,0.48],"nice":false,"zero":false},"title":"Correlation"}}},
  {"data":{"values":[{"h":4.32}]},"mark":{"type":"rule","color":"#111111","strokeWidth":0.9,"strokeDash":[4,3]},"encoding":{"y":{"field":"h","type":"quantitative","scale":{"domain":[-3.3,67.5],"nice":false,"zero":false},"title":"−Log₂ Pvalue"}}}
 ]},
{
 "width":153,"height":163,
 "title":{"text":"(D)","subtitle":["Glucose−protein correlations","C2A Cohort"],"encoding":{"dx":{"value":-7}}},
 "layer":[
  {"data":{"name":"labD"},"mark":{"type":"text","fontSize":7.2,"font":"Liberation Sans","clip":true},"encoding":{
    "x":{"field":"lx","type":"quantitative","scale":{"domain":[-0.335,0.48],"nice":false,"zero":false},"axis":{"title":"Correlation","values":[-0.3,-0.2,-0.1,0,0.1,0.2,0.3,0.4],"labelExpr":"abs(datum.value*5-round(datum.value*5))<0.001 ? format(datum.value,'.1f') : ''","tickOpacity":{"condition":{"test":"abs(datum.value*5-round(datum.value*5))<0.001","value":1},"value":0},"gridWidth":{"condition":{"test":"abs(datum.value*5-round(datum.value*5))<0.001","value":0.9},"value":0.45}}},
    "y":{"field":"ly","type":"quantitative","scale":{"domain":[-3.3,67.5],"nice":false,"zero":false},"axis":{"title":"−Log₂ Pvalue","values":[0,10,20,30,40,50,60],"labelExpr":"datum.value % 20 === 0 ? datum.label : ''","tickOpacity":{"condition":{"test":"datum.value % 20 === 0","value":1},"value":0},"gridWidth":{"condition":{"test":"datum.value % 20 === 0","value":0.9},"value":0.45}}},
    "text":{"field":"n"},
    "fill":{"field":"c","type":"nominal","scale":{"domain":["k","r","b"],"range":["#141414","#e8232b","#2445d8"]},"legend":null}}},
  {"data":{"name":"ptsD"},"mark":{"type":"circle","size":27,"opacity":1,"clip":true},"encoding":{
    "x":{"field":"x","type":"quantitative","scale":{"domain":[-0.335,0.48],"nice":false,"zero":false},"title":"Correlation"},
    "y":{"field":"y","type":"quantitative","scale":{"domain":[-3.3,67.5],"nice":false,"zero":false},"title":"−Log₂ Pvalue"},
    "color":{"field":"g","type":"nominal","scale":{"domain":["n","r","b"],"range":["#6e6e6e","#ee2028","#1f35d8"]},"legend":null}}},
  {"data":{"values":[{"v":-0.2},{"v":0.2}]},"mark":{"type":"rule","color":"#444444","strokeWidth":0.9,"strokeDash":[1,2.2]},"encoding":{"x":{"field":"v","type":"quantitative","scale":{"domain":[-0.335,0.48],"nice":false,"zero":false},"title":"Correlation"}}},
  {"data":{"values":[{"h":4.32}]},"mark":{"type":"rule","color":"#111111","strokeWidth":0.9,"strokeDash":[4,3]},"encoding":{"y":{"field":"h","type":"quantitative","scale":{"domain":[-3.3,67.5],"nice":false,"zero":false},"title":"−Log₂ Pvalue"}}}
 ]}
]
}
